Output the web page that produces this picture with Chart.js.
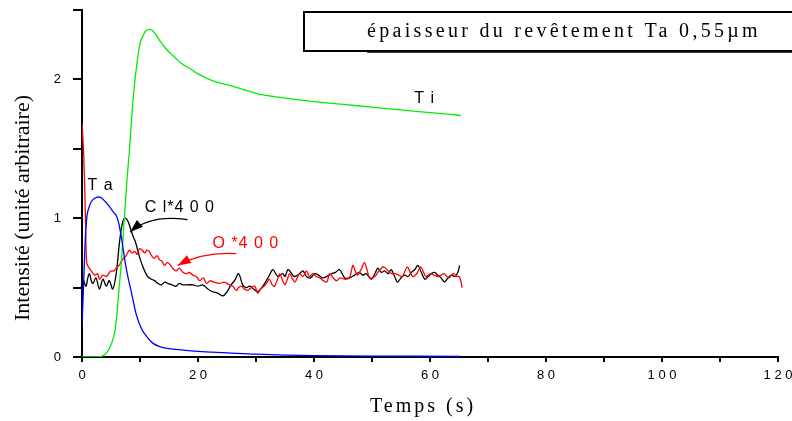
<!DOCTYPE html>
<html>
<head>
<meta charset="utf-8">
<script src="https://cdn.jsdelivr.net/npm/chart.js@4/dist/chart.umd.min.js"></script>
<style>
  html, body { margin: 0; padding: 0; background: #fff; }
  canvas { display: block; }
</style>
</head>
<body>
<canvas id="profileChart" width="792" height="421"></canvas>
<script>
// Ta (blue)
const taTime = [0, 0.3, 0.6, 0.9, 1.3, 1.8, 2.5, 3.2, 4.0, 4.8, 5.5, 5.9, 6.3, 6.8, 7.3, 7.9, 8.6, 9.4, 10.3, 11.1, 12.2, 13.4, 15, 17.5, 20, 25, 30, 40, 50, 65.3];
const taValues = [0.22, 0.55, 0.88, 1.03, 1.09, 1.13, 1.15, 1.15, 1.12, 1.08, 1.04, 1.02, 0.97, 0.86, 0.72, 0.58, 0.45, 0.30, 0.20, 0.15, 0.10, 0.075, 0.06, 0.05, 0.04, 0.03, 0.02, 0.01, 0.007, 0.005];

// Ti (green)
const tiTime = [0, 3.0, 4.0, 4.7, 5.2, 5.6, 6.0, 6.4, 6.75, 7.3, 7.8, 8.2, 8.7, 9.2, 10.0, 10.6, 11.0, 11.6, 12.2, 13.4, 14.3, 15.2, 16.0, 17.0, 18.5, 20.0, 22.6, 26, 28.4, 31, 34.1, 37, 40, 45, 50, 55, 60, 63, 65.3];
const tiValues = [0, 0, 0.02, 0.06, 0.11, 0.17, 0.30, 0.50, 0.66, 1.00, 1.30, 1.50, 1.80, 2.02, 2.26, 2.32, 2.35, 2.36, 2.35, 2.28, 2.23, 2.19, 2.16, 2.12, 2.08, 2.04, 1.99, 1.95, 1.92, 1.89, 1.87, 1.855, 1.84, 1.82, 1.80, 1.78, 1.76, 1.75, 1.74];

// O*400 (red)
const oTime = [0.0, 0.3, 0.6, 0.8, 1.1, 1.6, 2.2, 2.7, 3.0, 3.6, 4.2, 4.6, 5.0, 5.5, 5.9, 6.4, 6.8, 7.2, 7.6, 8.2, 8.6, 9.1, 9.5, 9.9, 10.4, 10.8, 11.2, 11.6, 12.0, 12.5, 12.9, 13.4, 13.8, 14.2, 14.7, 15.1, 15.6, 16.2, 16.8, 17.4, 18.0, 18.5, 19.1, 19.7, 20.3, 20.9, 21.5, 22.1, 22.7, 23.7, 24.5, 25.4, 26.0, 26.6, 27.0, 27.5, 28.0, 28.6, 29.2, 29.8, 30.3, 30.8, 31.4, 31.8, 32.3, 32.8, 33.2, 33.7, 34.1, 34.6, 35.0, 35.4, 35.8, 36.2, 36.7, 37.1, 37.5, 38.1, 38.7, 39.2, 39.8, 40.4, 41.0, 41.6, 42.2, 42.7, 43.3, 43.9, 44.5, 45.3, 46.1, 46.7, 47.1, 47.5, 48.1, 48.7, 49.2, 49.6, 50.5, 51.0, 51.4, 52.0, 52.8, 53.4, 54.0, 54.6, 55.2, 55.7, 56.1, 56.6, 57.0, 57.7, 58.4, 58.9, 59.3, 60.1, 60.7, 61.3, 61.9, 62.4, 62.9, 63.3, 63.7, 64.1, 64.6, 65.0, 65.3, 65.5];
const oValues = [1.68, 1.45, 1.00, 0.68, 0.65, 0.62, 0.59, 0.60, 0.56, 0.59, 0.58, 0.60, 0.62, 0.62, 0.64, 0.66, 0.69, 0.71, 0.73, 0.77, 0.75, 0.76, 0.74, 0.78, 0.77, 0.75, 0.77, 0.76, 0.73, 0.71, 0.73, 0.70, 0.69, 0.66, 0.68, 0.67, 0.64, 0.62, 0.64, 0.61, 0.60, 0.61, 0.59, 0.58, 0.55, 0.57, 0.53, 0.55, 0.54, 0.53, 0.54, 0.52, 0.51, 0.48, 0.50, 0.51, 0.49, 0.48, 0.50, 0.51, 0.46, 0.49, 0.51, 0.53, 0.56, 0.52, 0.51, 0.56, 0.60, 0.55, 0.52, 0.56, 0.60, 0.57, 0.54, 0.57, 0.60, 0.58, 0.62, 0.58, 0.60, 0.58, 0.57, 0.55, 0.54, 0.60, 0.57, 0.55, 0.57, 0.56, 0.57, 0.66, 0.62, 0.59, 0.63, 0.68, 0.62, 0.57, 0.58, 0.61, 0.63, 0.65, 0.62, 0.60, 0.60, 0.59, 0.58, 0.62, 0.65, 0.61, 0.58, 0.60, 0.65, 0.61, 0.58, 0.60, 0.59, 0.58, 0.59, 0.60, 0.58, 0.57, 0.59, 0.60, 0.58, 0.58, 0.55, 0.50];

// Cl*400 (black)
const clTime = [0.3, 0.7, 1.0, 1.3, 1.6, 1.9, 2.4, 3.0, 3.6, 4.2, 4.7, 5.3, 5.9, 6.5, 7.0, 7.4, 7.9, 8.4, 8.8, 9.2, 9.6, 10.0, 10.5, 11.3, 12.0, 12.5, 13.1, 13.7, 14.3, 14.8, 15.5, 16.2, 16.8, 17.4, 18.2, 19.1, 20.0, 20.8, 21.7, 22.5, 23.4, 24.3, 25.0, 25.7, 26.3, 27.0, 27.7, 28.3, 28.9, 29.6, 30.3, 31.0, 31.5, 32.2, 32.9, 33.4, 33.8, 34.6, 35.0, 35.5, 36.0, 36.6, 37.5, 38.1, 38.7, 39.4, 40.1, 40.8, 41.5, 42.2, 43.0, 43.7, 44.4, 45.3, 46.1, 47.0, 47.8, 48.4, 49.0, 49.9, 50.5, 51.0, 51.6, 52.2, 52.8, 53.3, 53.9, 54.4, 55.0, 55.6, 56.2, 56.8, 57.4, 57.9, 58.5, 59.1, 59.7, 60.2, 60.8, 61.3, 61.9, 62.5, 63.1, 63.7, 64.3, 64.8, 65.1];
const clValues = [0.55, 0.51, 0.57, 0.60, 0.55, 0.53, 0.57, 0.49, 0.56, 0.51, 0.55, 0.49, 0.60, 0.84, 0.97, 1.00, 0.98, 0.92, 0.87, 0.83, 0.77, 0.71, 0.65, 0.58, 0.56, 0.55, 0.53, 0.52, 0.54, 0.53, 0.52, 0.51, 0.53, 0.52, 0.52, 0.52, 0.51, 0.52, 0.49, 0.47, 0.46, 0.44, 0.47, 0.52, 0.55, 0.60, 0.52, 0.50, 0.51, 0.49, 0.47, 0.50, 0.53, 0.58, 0.63, 0.60, 0.58, 0.60, 0.58, 0.63, 0.61, 0.58, 0.60, 0.62, 0.58, 0.57, 0.60, 0.59, 0.57, 0.58, 0.60, 0.61, 0.63, 0.57, 0.57, 0.59, 0.61, 0.59, 0.60, 0.56, 0.60, 0.64, 0.61, 0.62, 0.60, 0.63, 0.58, 0.54, 0.57, 0.59, 0.58, 0.61, 0.63, 0.66, 0.61, 0.56, 0.58, 0.60, 0.61, 0.59, 0.57, 0.54, 0.57, 0.59, 0.58, 0.61, 0.66];

// axis ticks
const xTickLabels = [0, 20, 40, 60, 80, 100, 120];
const yTickLabels = [0, 1, 2];

const toPoints = (t, v) => t.map((x, i) => ({ x: x, y: v[i] }));
const spaced = (s) => String(s).split("").join(" ");

const SANS = "'Liberation Sans', Arial, sans-serif";
const SERIF = "'Liberation Serif', 'Times New Roman', serif";

// texts and arrows, placed in data units
const labels = [
  { text: "T i", x: 57.3, y: 1.83, color: "#000" },
  { text: "T a", x: 0.95, y: 1.2, color: "#000" },
  { text: "C l*4 0 0", x: 10.8, y: 1.043, color: "#000" },
  { text: "O *4 0 0", x: 22.5, y: 0.784, color: "#ff0000" },
];
const arrows = [
  { from: [18.2, 0.99], ctrl: [11.8, 1.03], to: [8.3, 0.9], color: "#000" },
  { from: [26.6, 0.745], ctrl: [20.8, 0.76], to: [16.5, 0.66], color: "#ff0000" },
];

const decorations = {
  id: "decorations",
  afterDraw(chart) {
    const ctx = chart.ctx;
    const xs = chart.scales.x;
    const ys = chart.scales.y;
    const px = (v) => xs.getPixelForValue(v);
    const py = (v) => ys.getPixelForValue(v);

    ctx.save();
    // curve labels
    ctx.font = "16px " + SANS;
    ctx.textAlign = "left";
    ctx.textBaseline = "alphabetic";
    ctx.letterSpacing = "1px";
    labels.forEach((l) => {
      ctx.fillStyle = l.color;
      ctx.fillText(l.text, px(l.x), py(l.y));
    });

    // arrows
    arrows.forEach((a) => {
      const x0 = px(a.from[0]), y0 = py(a.from[1]);
      const cx = px(a.ctrl[0]), cy = py(a.ctrl[1]);
      const x1 = px(a.to[0]), y1 = py(a.to[1]);
      ctx.strokeStyle = a.color;
      ctx.fillStyle = a.color;
      ctx.lineWidth = 1.2;
      ctx.beginPath();
      ctx.moveTo(x0, y0);
      ctx.quadraticCurveTo(cx, cy, x1, y1);
      ctx.stroke();
      const ang = Math.atan2(y1 - cy, x1 - cx);
      const len = 13, half = 4.5;
      ctx.beginPath();
      ctx.moveTo(x1, y1);
      ctx.lineTo(x1 - len * Math.cos(ang) + half * Math.sin(ang), y1 - len * Math.sin(ang) - half * Math.cos(ang));
      ctx.lineTo(x1 - len * Math.cos(ang) - half * Math.sin(ang), y1 - len * Math.sin(ang) + half * Math.cos(ang));
      ctx.closePath();
      ctx.fill();
    });

    // title box
    ctx.strokeStyle = "#000";
    ctx.lineWidth = 2;
    ctx.strokeRect(304, 12, 500, 39);
    ctx.lineWidth = 1.5;
    ctx.beginPath();
    ctx.moveTo(367, 52);
    ctx.lineTo(792, 52);
    ctx.stroke();
    ctx.fillStyle = "#000";
    ctx.font = "20px " + SERIF;
    ctx.letterSpacing = "3.3px";
    ctx.textAlign = "center";
    ctx.fillText("épaisseur du revêtement Ta 0,55µm", 564, 37);

    // axis titles
    ctx.font = "20px " + SERIF;
    ctx.letterSpacing = "3px";
    ctx.fillText("Temps (s)", 423, 412);
    ctx.letterSpacing = "0px";
    ctx.font = "22px " + SERIF;
    ctx.translate(29, 208);
    ctx.rotate(-Math.PI / 2);
    ctx.fillText("Intensité (unité arbitraire)", 0, 0);
    ctx.restore();
  },
};

const line = (data, color) => ({
  data: data,
  borderColor: color,
  borderWidth: 1.3,
  pointRadius: 0,
  tension: 0.35,
  fill: false,
});

new Chart(document.getElementById("profileChart").getContext("2d"), {
  type: "line",
  data: {
    datasets: [
      line(toPoints(taTime, taValues), "#0000ff"),
      line(toPoints(tiTime, tiValues), "#00ee00"),
      line(toPoints(oTime, oValues), "#ff0000"),
      line(toPoints(clTime, clValues), "#000000"),
    ],
  },
  options: {
    responsive: false,
    animation: false,
    layout: { padding: { left: 0, top: 10, right: 14, bottom: 0 } },
    plugins: {
      legend: { display: false },
      tooltip: { enabled: false },
    },
    scales: {
      x: {
        type: "linear",
        min: 0,
        max: 120,
        afterFit(scale) {
          scale.height = 64;
          scale.paddingLeft = 0;
          scale.paddingRight = 0;
        },
        border: { color: "#000", width: 2 },
        grid: { drawOnChartArea: false, tickLength: 5, tickColor: "#000", lineWidth: 2 },
        ticks: {
          stepSize: 10,
          autoSkip: false,
          maxRotation: 0,
          padding: 6,
          color: "#000",
          font: { family: SANS, size: 13 },
          callback: (v) => (xTickLabels.includes(v) ? spaced(v) : ""),
        },
      },
      y: {
        min: 0,
        max: 2.5,
        afterFit(scale) {
          scale.width = 82;
          scale.paddingTop = 0;
          scale.paddingBottom = 0;
        },
        border: { color: "#000", width: 2 },
        grid: { drawOnChartArea: false, tickLength: 9, tickColor: "#000", lineWidth: 2 },
        ticks: {
          stepSize: 0.5,
          autoSkip: false,
          padding: 12,
          color: "#000",
          font: { family: SANS, size: 13 },
          callback: (v) => (yTickLabels.includes(v) ? String(v) : ""),
        },
      },
    },
  },
  plugins: [decorations],
});
</script>
</body>
</html>
